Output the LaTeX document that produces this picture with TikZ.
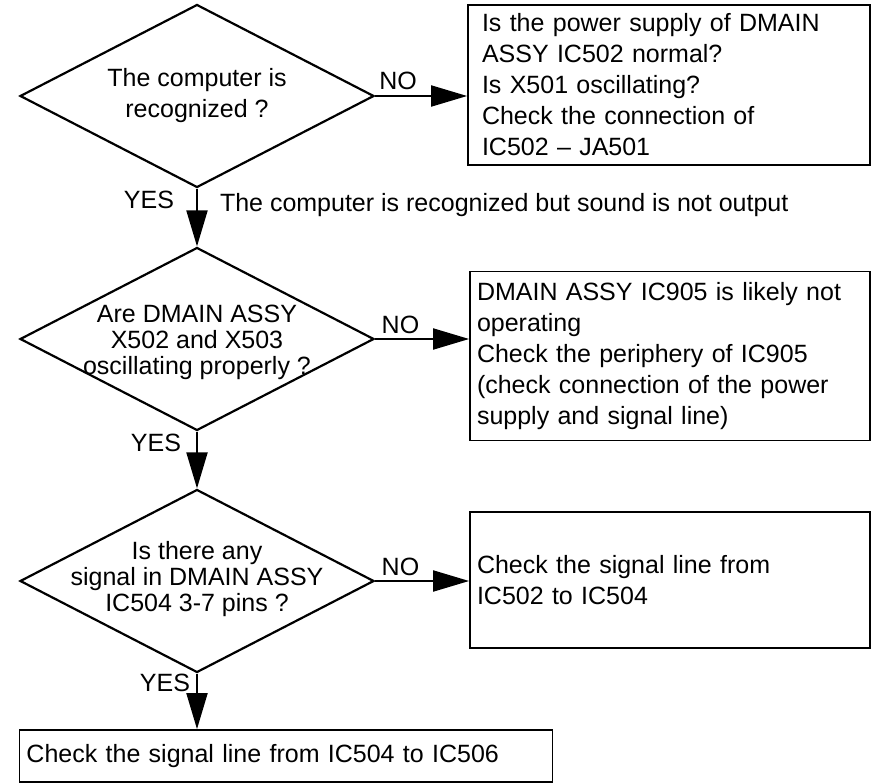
\documentclass[tikz,border=0pt]{standalone}
\usepackage{fontspec}
\setmainfont{Liberation Sans}
\usetikzlibrary{shapes.geometric,arrows.meta}

\newcommand{\flowfont}{\fontsize{25}{31}\selectfont}
\newcommand{\tightfont}{\fontsize{25}{26}\selectfont}

\tikzset{
  decision/.style={draw, shape=diamond, line width=2.2pt, minimum width=354pt,
    minimum height=183pt, inner sep=0pt},
  qtext/.style={align=center, font=\flowfont, inner sep=0pt},
  answer/.style={draw, line width=1.8pt, align=left, inner xsep=7pt,
    inner ysep=0pt, font=\flowfont},
  flow/.style={line width=2pt, -{Triangle[length=36pt,width=21pt]}},
  tag/.style={font=\flowfont, inner sep=2pt}
}

\begin{document}
\begin{tikzpicture}[x=1pt,y=-1pt]
  \useasboundingbox (0,0) rectangle (871,784);

  % questions
  \node[decision] (q1) at (197,96) {};
  \node[qtext] (q1t) at (q1) {The computer is\\recognized ?};
  \node[decision] (q2) at (197,339) {};
  \node[qtext, font=\tightfont] (q2t) at ([yshift=-3pt]q2) {Are DMAIN ASSY\\X502 and X503\\oscillating properly ?};
  \node[decision] (q3) at (197,581) {};
  \node[qtext, font=\tightfont] (q3t) at ([yshift=2pt]q3) {Is there any\\signal in DMAIN ASSY\\IC504 3-7 pins ?};

  % answers
  \node[answer, inner xsep=14pt, text width=374pt, minimum height=160pt] (a1) at (669,85)
    {Is the power supply of DMAIN\\ASSY IC502 normal?\\Is X501 oscillating?\\Check the connection of\\IC502 -- JA501};
  \node[answer, text width=386pt, minimum height=169pt] (a2) at (670,356)
    {DMAIN ASSY IC905 is likely not\\operating\\Check the periphery of IC905\\(check connection of the power\\supply and signal line)};
  \node[answer, text width=386pt, minimum height=136pt] (a3) at (670,580)
    {Check the signal line from\\IC502 to IC504};
  \node[answer, text width=519pt, minimum height=52pt] (a4) at (286,756)
    {Check the signal line from IC504 to IC506};

  % connectors
  \draw[flow] (q1.east) -- node[tag, pos=0.25, above, yshift=3pt] (no1) {NO} (q1.east -| a1.west);
  \draw[flow] (q2.east) -- node[tag, pos=0.27, above, yshift=2pt] (no2) {NO} (q2.east -| a2.west);
  \draw[flow] (q3.east) -- node[tag, pos=0.27, above, yshift=2pt] (no3) {NO} (q3.east -| a3.west);

  \draw[flow] (q1.south) -- node[tag, pos=0.2, left, xshift=-20pt] (yes1) {YES}
    node[tag, pos=0.29, right, xshift=20pt] (note1) {The computer is recognized but sound is not output}
    (q2.north);
  \draw[flow] (q2.south) -- node[tag, pos=0.2, left, xshift=-13pt] (yes2) {YES} (q3.north);
  \draw[flow] (q3.south) -- node[tag, pos=0.17, left, xshift=-4pt] (yes3) {YES} (q3.south |- a4.north);
\end{tikzpicture}
\end{document}
